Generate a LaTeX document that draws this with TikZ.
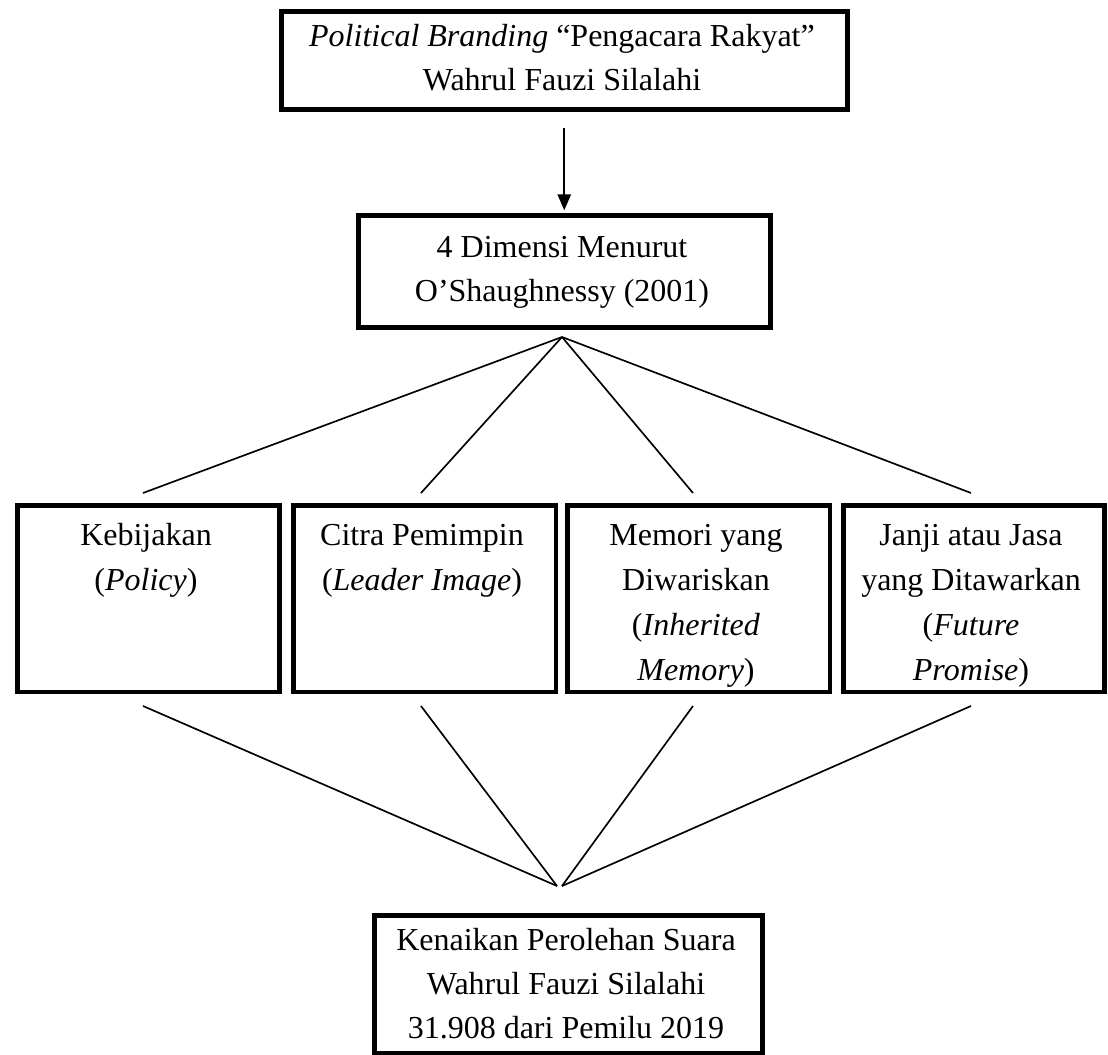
\documentclass[tikz,border=0pt]{standalone}
\usepackage{fontspec}
\setmainfont{Liberation Serif}
\usetikzlibrary{arrows.meta}
\begin{document}
\begin{tikzpicture}[x=0.75pt,y=-0.75pt,
  box/.style={draw=black, line width=3.4pt, inner sep=0pt, anchor=north west},
  txt/.style={font=\fontsize{24pt}{33pt}\selectfont, inner sep=0pt, anchor=base},
  link/.style={draw=black, line width=1.25pt},
  arr/.style={draw=black, line width=1.25pt, -{Triangle[length=12pt,width=10pt]}},
  ]
\useasboundingbox (0,0) rectangle (1108,1055);
% texts
\node[txt] (t0a) at (562,47) {\textit{Political Branding} “Pengacara Rakyat”};
\node[txt] (t0b) at (562,91) {Wahrul Fauzi Silalahi};
\node[txt] (tda) at (562,258) {4 Dimensi Menurut};
\node[txt] (tdb) at (562,302) {O’Shaughnessy (2001)};
\node[txt] (t1a) at (146,546) {Kebijakan};
\node[txt] (t1b) at (146,591) {(\textit{Policy})};
\node[txt] (t2a) at (422,546) {Citra Pemimpin};
\node[txt] (t2b) at (422,591) {(\textit{Leader Image})};
\node[txt] (t3a) at (696,546) {Memori yang};
\node[txt] (t3b) at (696,591) {Diwariskan};
\node[txt] (t3c) at (696,636) {(\textit{Inherited}};
\node[txt] (t3d) at (696,681) {\textit{Memory})};
\node[txt] (t4a) at (971,546) {Janji atau Jasa};
\node[txt] (t4b) at (971,591) {yang Ditawarkan};
\node[txt] (t4c) at (971,636) {(\textit{Future}};
\node[txt] (t4d) at (971,681) {\textit{Promise})};
\node[txt] (tka) at (566,950) {Kenaikan Perolehan Suara};
\node[txt] (tkb) at (566,994) {Wahrul Fauzi Silalahi};
\node[txt] (tkc) at (566,1038) {31.908 dari Pemilu 2019};
% boxes
\node[box, minimum width=424.5pt, minimum height=73.5pt] (top) at (279,9) {};
\node[box, minimum width=309pt, minimum height=84pt] (dim) at (356,213) {};
\node[box, minimum width=196.5pt, minimum height=140pt] (b1) at (15,503) {};
\node[box, minimum width=197pt, minimum height=140pt] (b2) at (291,503) {};
\node[box, minimum width=197pt, minimum height=140pt] (b3) at (565,503) {};
\node[box, minimum width=196pt, minimum height=140pt] (b4) at (841,503) {};
\node[box, minimum width=291pt, minimum height=103.5pt] (res) at (372,913) {};
% connectors
\draw[arr] ([yshift=-12pt]top.south) -- ([yshift=2pt]dim.north);
\coordinate (apexA) at (562,337);
\coordinate (apexL) at (557,886);
\coordinate (apexR) at (562,886);
\coordinate (u1) at (143,493);
\coordinate (u2) at (421,493);
\coordinate (u3) at (693,493);
\coordinate (u4) at (971,493);
\coordinate (d1) at (143,706);
\coordinate (d2) at (421,706);
\coordinate (d3) at (693,706);
\coordinate (d4) at (971,706);
\draw[link] (apexA) -- (u1);
\draw[link] (apexA) -- (u2);
\draw[link] (apexA) -- (u3);
\draw[link] (apexA) -- (u4);
\draw[link] (d1) -- (apexL);
\draw[link] (d2) -- (apexL);
\draw[link] (d3) -- (apexR);
\draw[link] (d4) -- (apexR);
\end{tikzpicture}
\end{document}
